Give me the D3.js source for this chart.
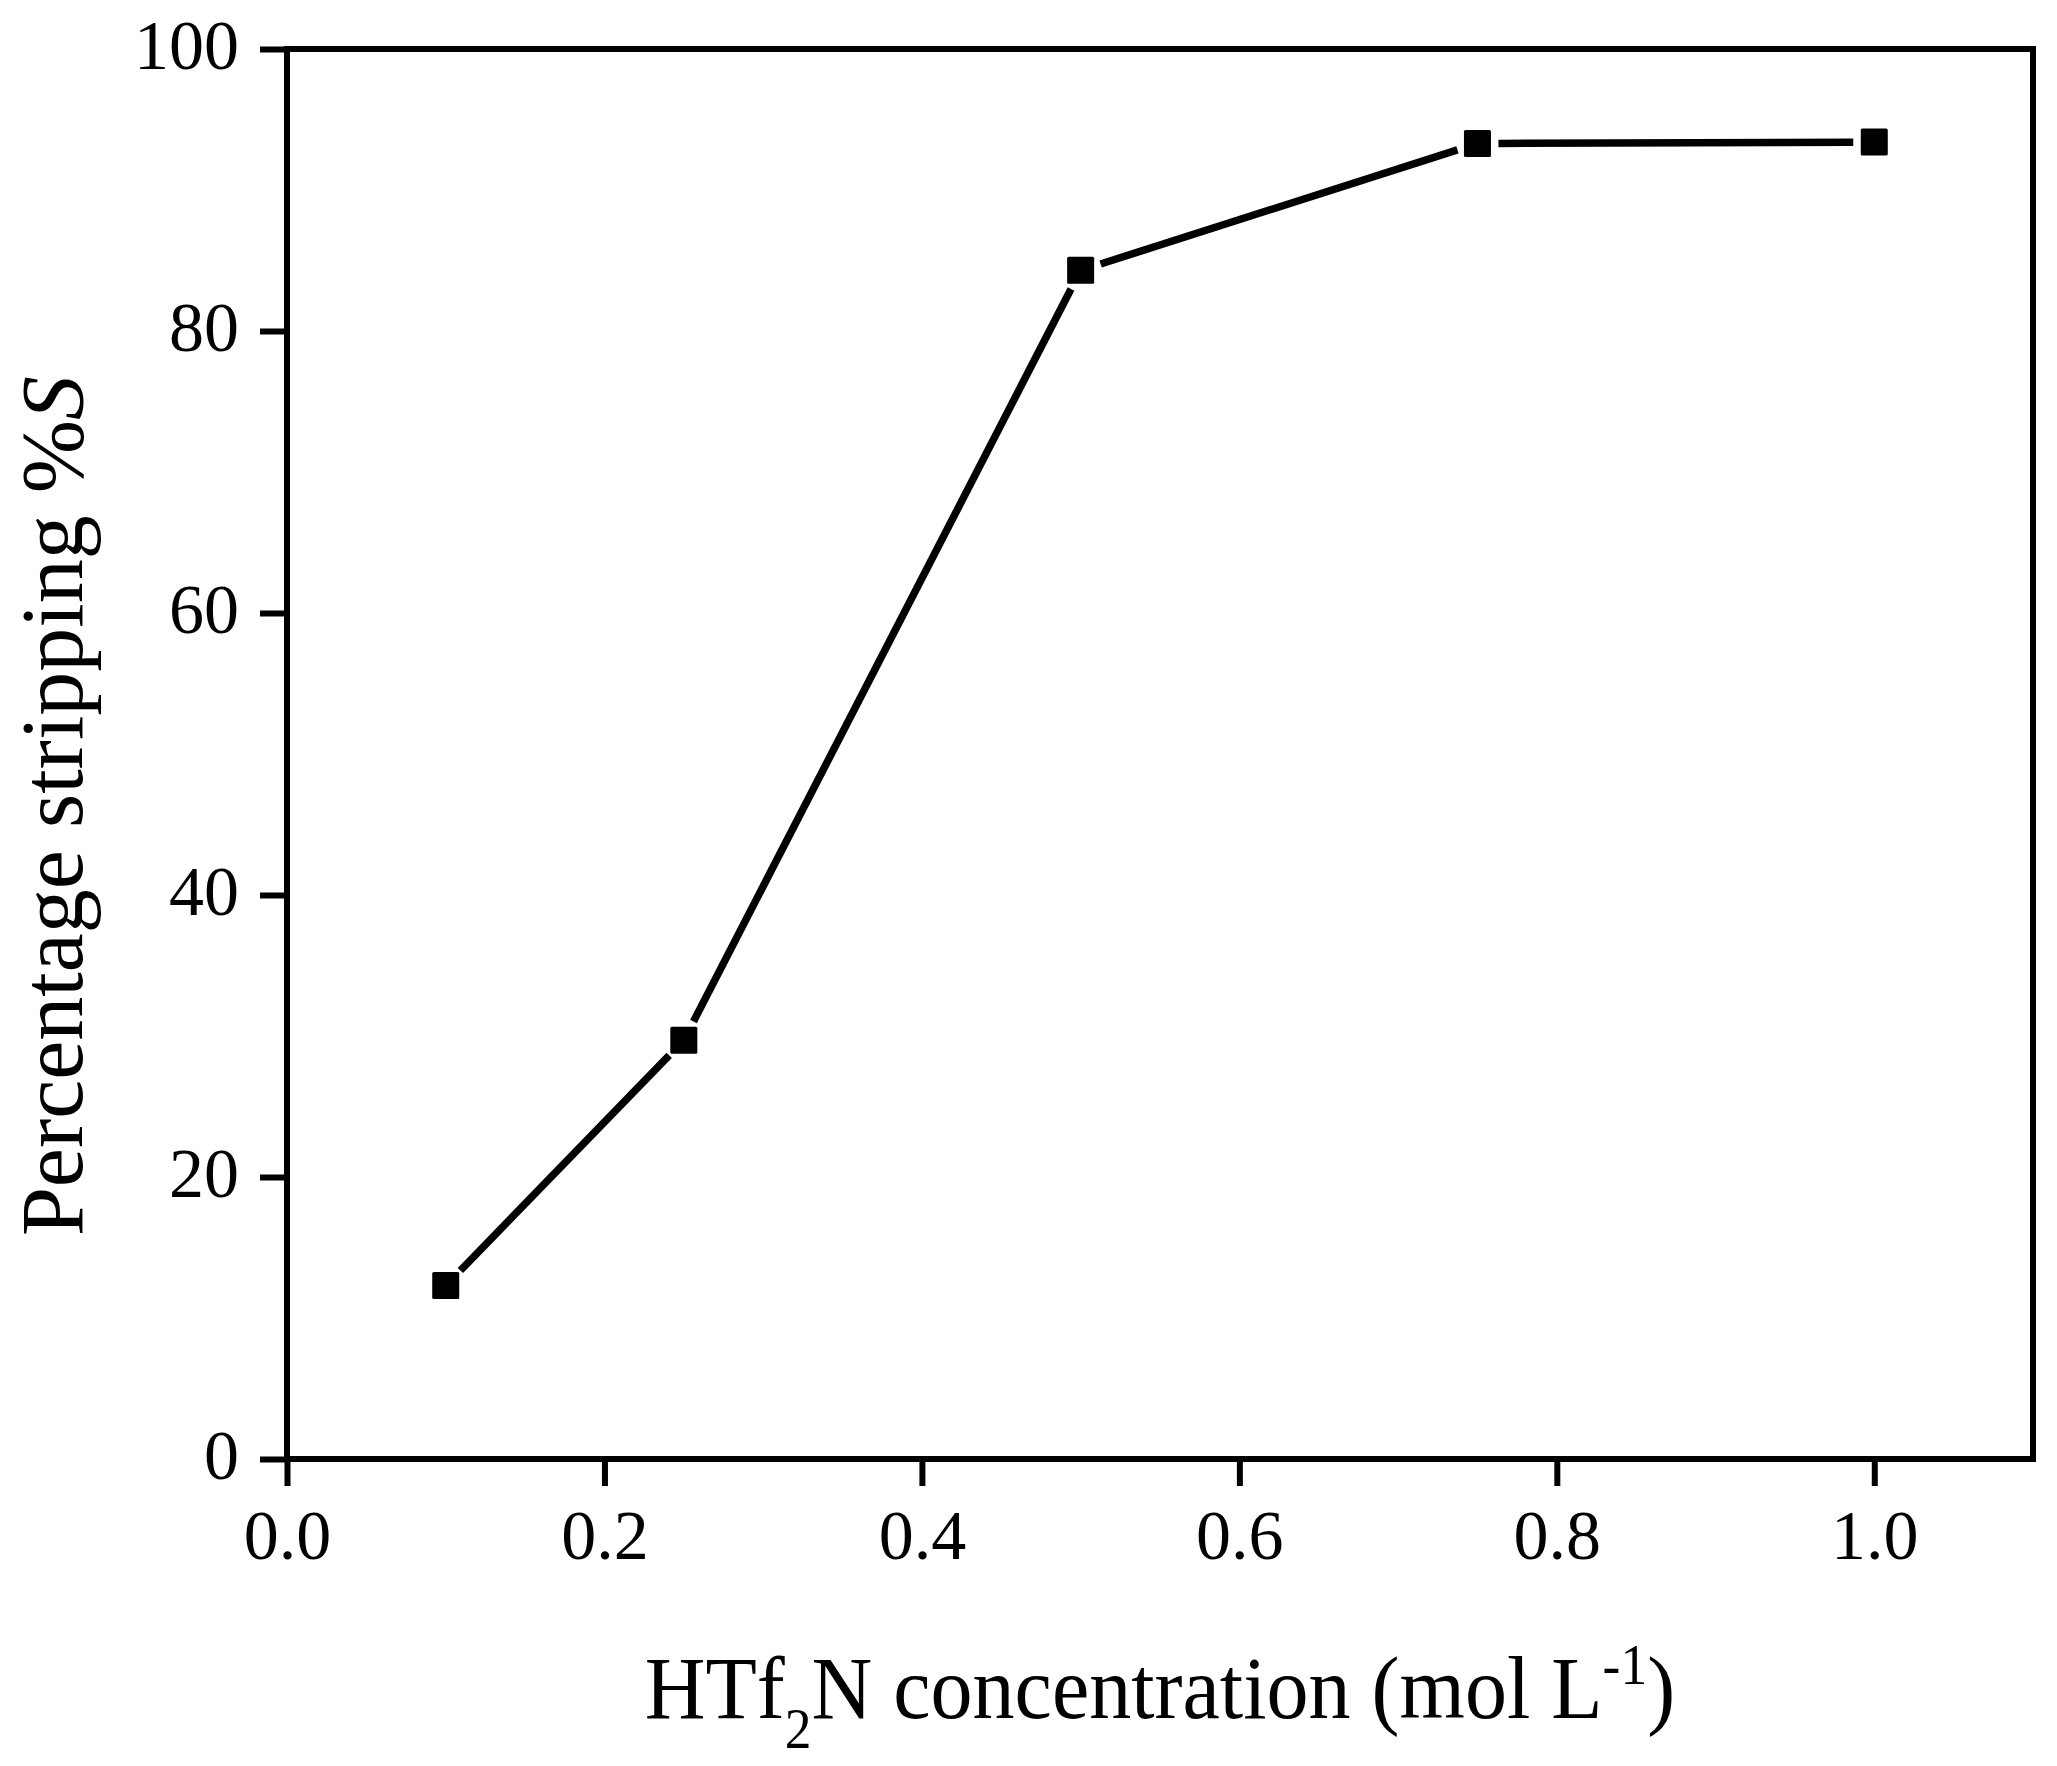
<!DOCTYPE html>
<html>
<head>
<meta charset="utf-8">
<script src="https://cdn.jsdelivr.net/npm/d3@7"></script>
<style>
  html, body { margin: 0; padding: 0; background: #fff; }
  svg { display: block; }
  text { font-family: "Liberation Serif", "Times New Roman", serif; fill: #000; }
</style>
</head>
<body>
<svg id="chart" width="2057" height="1766"></svg>
<script>
// ---- data ----
const concentration = [0.1, 0.25, 0.5, 0.75, 1.0];
const stripping = [12.3, 29.7, 84.3, 93.3, 93.4];
const xTicks = [0.0, 0.2, 0.4, 0.6, 0.8, 1.0];
const yTicks = [0, 20, 40, 60, 80, 100];
const xDomain = [0, 1.1];
const yDomain = [0, 100];

(function () {
  // ---- layout ----
  const mLeft = 287, mRight = 2033, mTop = 49, mBottom = 1459;
  const svg = d3.select("#chart");
  svg.append("rect").attr("width", 2057).attr("height", 1766).attr("fill", "#fff");

  const x = d3.scaleLinear().domain(xDomain).range([mLeft, mRight]);
  const y = d3.scaleLinear().domain(yDomain).range([mBottom, mTop]);

  const axisW = 6, tickLen = 27;

  // frame
  svg.append("rect")
    .attr("x", mLeft).attr("y", mTop)
    .attr("width", mRight - mLeft).attr("height", mBottom - mTop)
    .attr("fill", "none").attr("stroke", "#000").attr("stroke-width", axisW);

  // x axis
  const gx = svg.append("g").attr("transform", `translate(0,${mBottom})`)
    .call(d3.axisBottom(x).tickValues(xTicks).tickSize(tickLen).tickSizeOuter(0).tickPadding(0).tickFormat(d3.format(".1f")));
  gx.select(".domain").remove();
  gx.selectAll(".tick line").attr("stroke", "#000").attr("stroke-width", axisW);
  gx.selectAll(".tick text").attr("font-size", 70).attr("font-family", "Liberation Serif, Times New Roman, serif")
    .attr("fill", "#000").attr("y", 100).attr("dy", 0);

  // y axis
  const gy = svg.append("g").attr("transform", `translate(${mLeft},0)`)
    .call(d3.axisLeft(y).tickValues(yTicks).tickSize(tickLen).tickSizeOuter(0).tickPadding(0));
  gy.select(".domain").remove();
  gy.selectAll(".tick line").attr("stroke", "#000").attr("stroke-width", axisW);
  gy.selectAll(".tick text").attr("font-size", 70).attr("font-family", "Liberation Serif, Times New Roman, serif")
    .attr("fill", "#000").attr("x", -48).attr("dy", 19);

  // ---- data line with gaps around markers ----
  const pts = concentration.map((c, i) => [x(c), y(stripping[i])]);
  const gap = 21;
  const segs = [];
  for (let i = 0; i < pts.length - 1; i++) {
    const [x1, y1] = pts[i], [x2, y2] = pts[i + 1];
    const dx = x2 - x1, dy = y2 - y1, L = Math.hypot(dx, dy);
    segs.push([x1 + dx / L * gap, y1 + dy / L * gap, x2 - dx / L * gap, y2 - dy / L * gap]);
  }
  svg.append("g").selectAll("line").data(segs).join("line")
    .attr("x1", d => d[0]).attr("y1", d => d[1])
    .attr("x2", d => d[2]).attr("y2", d => d[3])
    .attr("stroke", "#000").attr("stroke-width", 7.5);

  const ms = 27;
  svg.append("g").selectAll("rect").data(pts).join("rect")
    .attr("x", d => d[0] - ms / 2).attr("y", d => d[1] - ms / 2)
    .attr("width", ms).attr("height", ms).attr("rx", 1.5)
    .attr("fill", "#000");

  // ---- axis titles ----
  const xt = svg.append("text")
    .attr("text-anchor", "middle")
    .attr("font-size", 88)
    .attr("transform", `translate(${(mLeft + mRight) / 2},1718) scale(0.955,1)`);
  xt.append("tspan").text("HTf");
  xt.append("tspan").attr("font-size", 56).attr("dy", 30).text("2");
  xt.append("tspan").attr("dy", -30).text("N concentration (mol L");
  xt.append("tspan").attr("font-size", 56).attr("dy", -34).text("-1");
  xt.append("tspan").attr("dy", 34).text(")");

  const yt = svg.append("text")
    .attr("text-anchor", "middle")
    .attr("font-size", 88)
    .attr("transform", `translate(82,806) rotate(-90)`);
  yt.append("tspan").text("Percentage stripping %");
  yt.append("tspan").attr("font-style", "italic").text("S");
})();
</script>
</body>
</html>
